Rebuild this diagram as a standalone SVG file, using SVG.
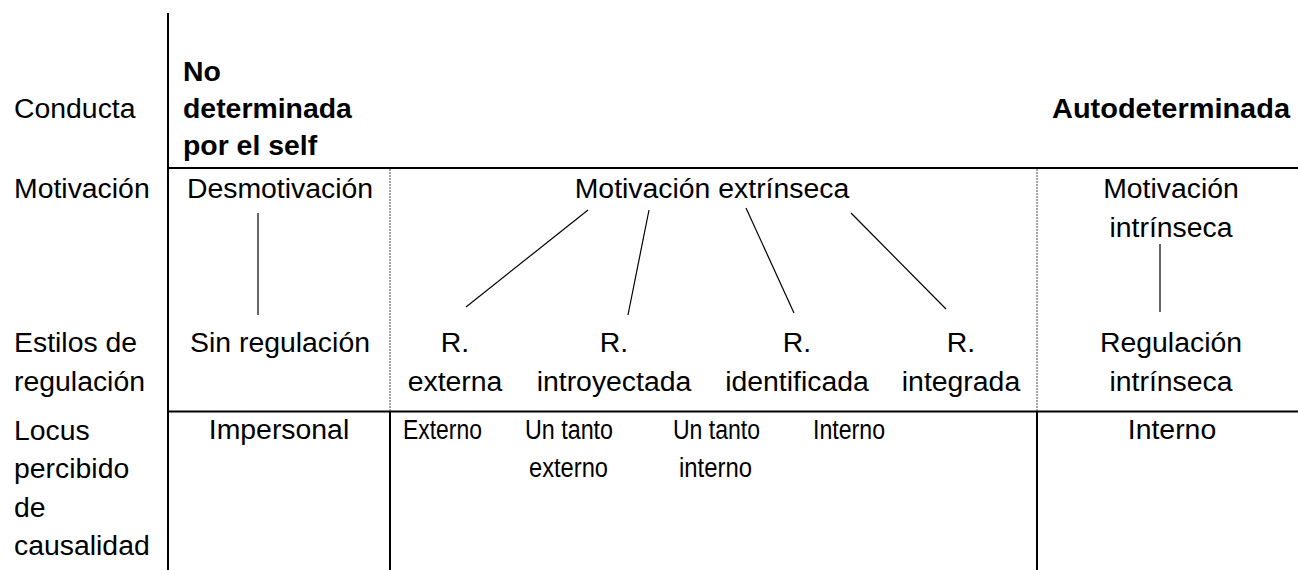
<svg xmlns="http://www.w3.org/2000/svg" width="1298" height="570" viewBox="0 0 1298 570">
<style>
text{font-family:"Liberation Sans",Arial,sans-serif;font-size:28.4px;fill:#000}
.b{font-weight:bold}
.m{text-anchor:middle}
.grid{stroke:#000;stroke-width:2;fill:none}
.dot{stroke:#444;stroke-width:1;stroke-dasharray:2 1;fill:none}
.con{stroke:#000;stroke-width:1.2;fill:none}
</style>
<rect width="1298" height="570" fill="#fff"/>
<g id="grid">
<line class="grid" x1="168" y1="13" x2="168" y2="570"/>
<line class="grid" x1="168" y1="168" x2="1298" y2="168"/>
<line class="grid" x1="168" y1="411.5" x2="1298" y2="411.5"/>
<line class="dot" x1="390" y1="169" x2="390" y2="411"/>
<line class="dot" x1="1037" y1="169" x2="1037" y2="411"/>
<line class="grid" x1="390" y1="411.5" x2="390" y2="570"/>
<line class="grid" x1="1037" y1="411.5" x2="1037" y2="570"/>
</g>
<g id="row-labels">
<text x="14" y="118">Conducta</text>
<text x="14" y="198">Motivación</text>
<text x="14" y="352">Estilos de</text>
<text x="14" y="391">regulación</text>
<text x="14" y="440">Locus</text>
<text x="14" y="478">percibido</text>
<text x="14" y="517">de</text>
<text x="14" y="555">causalidad</text>
</g>
<g id="no-determinada"><text class="b" x="183" y="81">No</text><text class="b" x="183" y="118">determinada</text><text class="b" x="183" y="155">por el self</text></g>
<g id="autodeterminada"><text class="b" x="1052" y="118" textLength="238" lengthAdjust="spacingAndGlyphs">Autodeterminada</text></g>
<g id="desmotivacion"><text class="m" x="280" y="198">Desmotivación</text></g>
<g id="motivacion-extrinseca"><text class="m" x="712" y="198">Motivación extrínseca</text></g>
<g id="motivacion-intrinseca"><text class="m" x="1171" y="198">Motivación</text><text class="m" x="1171" y="237">intrínseca</text></g>
<g id="sin-regulacion"><text class="m" x="280" y="352">Sin regulación</text></g>
<g id="r-externa"><text class="m" x="455" y="352">R.</text><text class="m" x="455" y="391">externa</text></g>
<g id="r-introyectada"><text class="m" x="614" y="352">R.</text><text class="m" x="614" y="391">introyectada</text></g>
<g id="r-identificada"><text class="m" x="797" y="352">R.</text><text class="m" x="797" y="391">identificada</text></g>
<g id="r-integrada"><text class="m" x="961" y="352">R.</text><text class="m" x="961" y="391">integrada</text></g>
<g id="regulacion-intrinseca"><text class="m" x="1171" y="352">Regulación</text><text class="m" x="1171" y="391">intrínseca</text></g>
<g id="impersonal"><text class="m" x="279" y="439">Impersonal</text></g>
<g id="externo"><text x="403" y="439" textLength="79" lengthAdjust="spacingAndGlyphs">Externo</text></g>
<g id="un-tanto-externo"><text x="525" y="439" textLength="88" lengthAdjust="spacingAndGlyphs">Un tanto</text><text x="529" y="477" textLength="79" lengthAdjust="spacingAndGlyphs">externo</text></g>
<g id="un-tanto-interno"><text x="673" y="439" textLength="87" lengthAdjust="spacingAndGlyphs">Un tanto</text><text x="679" y="477" textLength="73" lengthAdjust="spacingAndGlyphs">interno</text></g>
<g id="interno-1"><text x="813" y="439" textLength="72" lengthAdjust="spacingAndGlyphs">Interno</text></g>
<g id="interno-2"><text class="m" x="1172" y="439">Interno</text></g>
<g id="connectors">
<line class="con" x1="258" y1="213" x2="258" y2="315"/>
<line class="con" x1="588" y1="210" x2="466" y2="307"/>
<line class="con" x1="649" y1="210" x2="628" y2="315"/>
<line class="con" x1="746" y1="208" x2="794" y2="313"/>
<line class="con" x1="851" y1="213" x2="946" y2="309"/>
<line class="con" x1="1160" y1="244" x2="1160" y2="312"/>
</g>
</svg>
